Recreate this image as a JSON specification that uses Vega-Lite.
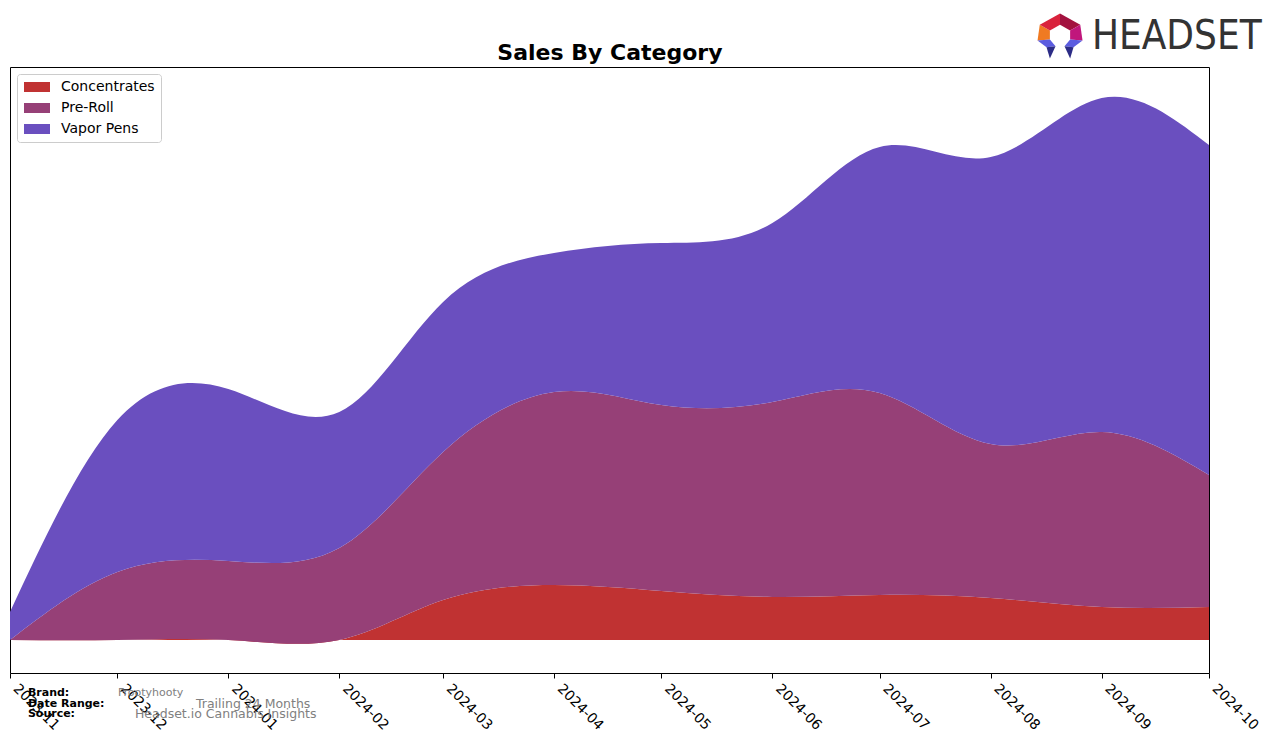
{
  "$schema": "https://vega.github.io/schema/vega-lite/v6.json",
  "width": 1199,
  "height": 606,
  "autosize": {"type": "none"},
  "padding": {"left": 10, "top": 67, "right": 67, "bottom": 70},
  "background": "white",
  "config": {
    "view": {"stroke": "black", "strokeWidth": 1},
    "font": "DejaVu Sans"
  },
  "datasets": {
    "sales": [
      {"date": "2023-11-01", "category": "Concentrates", "value": 0},
      {"date": "2023-12-01", "category": "Concentrates", "value": 0},
      {"date": "2024-01-01", "category": "Concentrates", "value": 0},
      {"date": "2024-02-01", "category": "Concentrates", "value": 0},
      {"date": "2024-03-01", "category": "Concentrates", "value": 40},
      {"date": "2024-04-01", "category": "Concentrates", "value": 55},
      {"date": "2024-05-01", "category": "Concentrates", "value": 49},
      {"date": "2024-06-01", "category": "Concentrates", "value": 43},
      {"date": "2024-07-01", "category": "Concentrates", "value": 45},
      {"date": "2024-08-01", "category": "Concentrates", "value": 42},
      {"date": "2024-09-01", "category": "Concentrates", "value": 33},
      {"date": "2024-10-01", "category": "Concentrates", "value": 33},
      {"date": "2023-11-01", "category": "Pre-Roll", "value": 0},
      {"date": "2023-12-01", "category": "Pre-Roll", "value": 68},
      {"date": "2024-01-01", "category": "Pre-Roll", "value": 79},
      {"date": "2024-02-01", "category": "Pre-Roll", "value": 92},
      {"date": "2024-03-01", "category": "Pre-Roll", "value": 148},
      {"date": "2024-04-01", "category": "Pre-Roll", "value": 193},
      {"date": "2024-05-01", "category": "Pre-Roll", "value": 186},
      {"date": "2024-06-01", "category": "Pre-Roll", "value": 195},
      {"date": "2024-07-01", "category": "Pre-Roll", "value": 202},
      {"date": "2024-08-01", "category": "Pre-Roll", "value": 154},
      {"date": "2024-09-01", "category": "Pre-Roll", "value": 175},
      {"date": "2024-10-01", "category": "Pre-Roll", "value": 132},
      {"date": "2023-11-01", "category": "Vapor Pens", "value": 28},
      {"date": "2023-12-01", "category": "Vapor Pens", "value": 152},
      {"date": "2024-01-01", "category": "Vapor Pens", "value": 172},
      {"date": "2024-02-01", "category": "Vapor Pens", "value": 136},
      {"date": "2024-03-01", "category": "Vapor Pens", "value": 150},
      {"date": "2024-04-01", "category": "Vapor Pens", "value": 139},
      {"date": "2024-05-01", "category": "Vapor Pens", "value": 162},
      {"date": "2024-06-01", "category": "Vapor Pens", "value": 179},
      {"date": "2024-07-01", "category": "Vapor Pens", "value": 246},
      {"date": "2024-08-01", "category": "Vapor Pens", "value": 287},
      {"date": "2024-09-01", "category": "Vapor Pens", "value": 334},
      {"date": "2024-10-01", "category": "Vapor Pens", "value": 330}
    ],
    "footer": [
      {"label": "Brand:", "date": "2023-11-06", "pos": -53},
      {"label": "Date Range:", "date": "2023-11-06", "pos": -64},
      {"label": "Source:", "date": "2023-11-06", "pos": -74}
    ],
    "footerValues": [
      {"label": "Frootyhooty", "date": "2023-12-01T04:00:00Z", "pos": -53, "size": "s"},
      {"label": "Trailing 24 Months", "date": "2023-12-22T23:00:00Z", "pos": -64, "size": "l"},
      {"label": "Headset.io Cannabis Insights", "date": "2023-12-05T22:00:00Z", "pos": -74, "size": "l"}
    ],
    "titleText": [
      {"label": "Sales By Category", "date": "2024-04-16T15:00:00Z", "pos": 587}
    ],
    "logoPieces": [
      {"piece": "orange"},
      {"piece": "red"},
      {"piece": "darkred"},
      {"piece": "magenta"},
      {"piece": "blueL"},
      {"piece": "navyL"},
      {"piece": "blueR"},
      {"piece": "navyR"}
    ],
    "logoText": [
      {"label": "HEADSET"}
    ]
  },
  "layer": [
    {
      "data": {"name": "sales"},
      "mark": {"type": "area", "interpolate": "natural", "opacity": 1},
      "encoding": {
        "x": {
          "field": "date",
          "type": "temporal",
          "scale": {"type": "utc", "domain": ["2023-11-01", "2024-10-01"]},
          "axis": {
            "title": null,
            "format": "%Y-%m",
            "tickCount": {"interval": "month", "step": 1},
            "labelAngle": 45,
            "labelAlign": "left",
            "labelBaseline": "bottom",
            "labelFontSize": 14,
            "labelFont": "DejaVu Sans",
            "labelColor": "black",
            "tickColor": "black",
            "tickSize": 5,
            "labelPadding": 13,
            "domain": false,
            "grid": false,
            "labelOverlap": false,
            "labelFlush": false
          }
        },
        "y": {
          "field": "value",
          "type": "quantitative",
          "stack": "zero",
          "scale": {"domain": [-33, 573], "nice": false, "zero": false},
          "axis": null
        },
        "color": {
          "field": "category",
          "type": "nominal",
          "scale": {
            "domain": ["Concentrates", "Pre-Roll", "Vapor Pens"],
            "range": ["#c03232", "#964077", "#6a4fbf"]
          },
          "legend": {
            "title": null,
            "orient": "top-left",
            "offset": 7,
            "symbolType": "M-0.857,-0.714H2.857V0.714H-0.857Z",
            "symbolSize": 196,
            "symbolStrokeWidth": 0,
            "symbolOpacity": 1,
            "labelFontSize": 14,
            "labelFont": "DejaVu Sans",
            "labelColor": "black",
            "rowPadding": 7,
            "fillColor": "white",
            "strokeColor": "#cccccc",
            "cornerRadius": 3,
            "padding": 6,
            "labelOffset": 24
          }
        },
        "order": {"field": "category", "sort": "ascending"}
      }
    },
    {
      "data": {"name": "titleText"},
      "mark": {"type": "text", "align": "center", "baseline": "middle", "fontWeight": "bold", "fontSize": 22, "font": "DejaVu Sans", "color": "black"},
      "encoding": {
        "x": {"field": "date", "type": "temporal"},
        "y": {"field": "pos", "type": "quantitative"},
        "text": {"field": "label"}
      }
    },
    {
      "data": {"name": "footer"},
      "mark": {"type": "text", "align": "left", "baseline": "middle", "fontWeight": "bold", "fontSize": 11, "font": "DejaVu Sans", "color": "black"},
      "encoding": {
        "x": {"field": "date", "type": "temporal"},
        "y": {"field": "pos", "type": "quantitative"},
        "text": {"field": "label"}
      }
    },
    {
      "data": {"name": "footerValues"},
      "mark": {"type": "text", "align": "left", "baseline": "middle", "font": "DejaVu Sans", "color": "#808080"},
      "encoding": {
        "x": {"field": "date", "type": "temporal"},
        "y": {"field": "pos", "type": "quantitative"},
        "text": {"field": "label"},
        "size": {"field": "size", "type": "nominal", "scale": {"domain": ["s", "l"], "range": [11, 12.5]}, "legend": null}
      }
    },
    {
      "data": {"name": "logoPieces"},
      "mark": {"type": "point", "filled": true, "opacity": 1, "strokeWidth": 0, "size": 2025},
      "encoding": {
        "x": {"datum": {"year": 2024, "month": 8, "date": 20, "hours": 9, "utc": true}, "type": "temporal"},
        "y": {"datum": 604, "type": "quantitative"},
        "shape": {
          "field": "piece",
          "type": "nominal",
          "scale": {
            "domain": ["orange", "red", "darkred", "magenta", "blueL", "navyL", "blueR", "navyR"],
            "range": [
              "M-0.9,-0.5L-0.45,-0.25L-0.45,0.15L-1,0.2Z",
              "M-0.9,-0.5L0,-1L0,-0.5L-0.45,-0.25Z",
              "M0,-1L0.9,-0.5L0.45,-0.25L0,-0.5Z",
              "M0.9,-0.5L1,0.2L0.45,0.15L0.45,-0.25Z",
              "M-1,0.2L-0.45,0.15L-0.2,0.45L-0.6,0.5Z",
              "M-0.6,0.5L-0.2,0.45L-0.45,1Z",
              "M1,0.2L0.45,0.15L0.2,0.45L0.6,0.5Z",
              "M0.6,0.5L0.2,0.45L0.45,1Z"
            ]
          },
          "legend": null
        },
        "fill": {
          "field": "piece",
          "type": "nominal",
          "scale": {
            "domain": ["orange", "red", "darkred", "magenta", "blueL", "navyL", "blueR", "navyR"],
            "range": ["#f07a22", "#d9223c", "#a3123f", "#c0177c", "#5b5ce0", "#2c2c86", "#5b5ce0", "#2c2c86"]
          },
          "legend": null
        }
      }
    },
    {
      "data": {"name": "logoText"},
      "mark": {"type": "text", "align": "left", "baseline": "middle", "fontSize": 40, "font": "DejaVu Sans Condensed, DejaVu Sans, sans-serif", "color": "#333333"},
      "encoding": {
        "x": {"datum": {"year": 2024, "month": 8, "date": 29, "hours": 7, "utc": true}, "type": "temporal"},
        "y": {"datum": 603, "type": "quantitative"},
        "text": {"field": "label"}
      }
    }
  ],
  "resolve": {"scale": {"fill": "independent", "size": "independent"}}
}
